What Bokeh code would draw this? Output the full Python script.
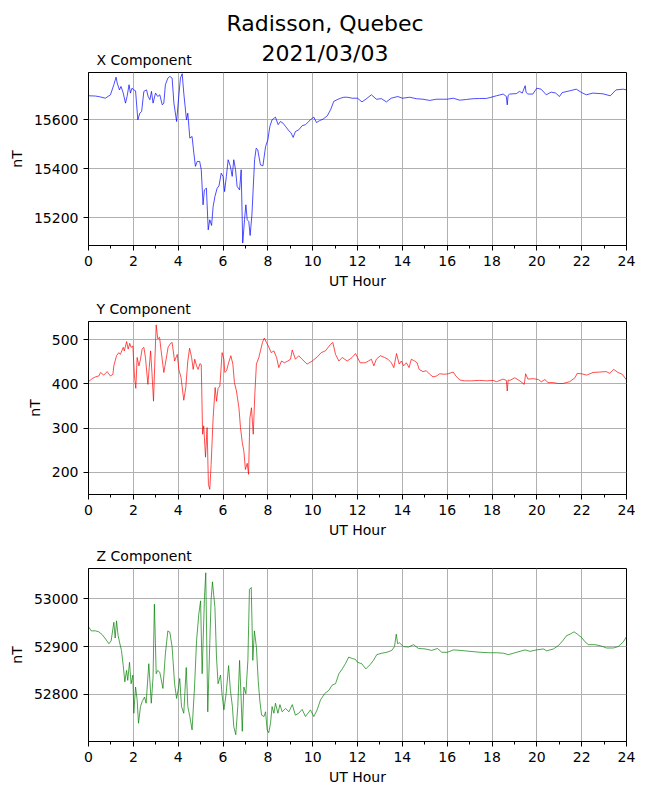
from bokeh.plotting import figure
from bokeh.models import Range1d, FixedTicker, Title
from bokeh.layouts import column, row
from bokeh.embed import file_html
from bokeh.resources import INLINE

FONT = "DejaVu Sans"

# ---------------- data ----------------
x_hours = [0.0, 0.3, 0.5, 0.75, 0.98, 1.13, 1.23, 1.28, 1.38, 1.45, 1.55, 1.65, 1.72, 1.81, 1.87, 1.94,
           2.02, 2.1, 2.2, 2.29, 2.37, 2.47, 2.59, 2.66, 2.74, 2.81, 2.88, 2.99, 3.09, 3.18, 3.29, 3.36,
           3.43, 3.54, 3.63, 3.73, 3.81, 3.93, 4.0, 4.1, 4.18, 4.25, 4.37, 4.43, 4.52, 4.62, 4.7, 4.77,
           4.85, 4.96, 5.03, 5.11, 5.17, 5.26, 5.34, 5.41, 5.49, 5.56, 5.64, 5.74, 5.82, 5.92, 6.0, 6.07,
           6.15, 6.23, 6.33, 6.41, 6.48, 6.56, 6.63, 6.74, 6.81, 6.88, 6.96, 7.02, 7.08, 7.15, 7.21, 7.29,
           7.41, 7.48, 7.55, 7.67, 7.78, 7.9, 8.0, 8.09, 8.19, 8.34, 8.46, 8.56, 8.68, 8.79, 8.94, 9.04,
           9.13, 9.23, 9.38, 9.53, 9.68, 9.9, 10.05, 10.17, 10.32, 10.47, 10.65, 10.8, 10.94, 11.09, 11.24,
           11.39, 11.54, 11.67, 11.76, 12.0, 12.2, 12.4, 12.62, 12.84, 13.07, 13.29, 13.5, 13.8, 14.0,
           14.33, 14.63, 14.92, 15.22, 15.52, 16.0, 16.27, 16.56, 16.86, 17.16, 17.45, 17.75, 18.0, 18.2,
           18.5, 18.64, 18.68, 18.72, 18.79, 19.09, 19.23, 19.35, 19.48, 19.52, 19.6, 19.82, 20.0, 20.19,
           20.42, 20.64, 20.84, 21.01, 21.13, 21.46, 21.76, 22.0, 22.21, 22.5, 22.95, 23.28, 23.53, 23.85, 24.0]
x_values = [15698, 15697, 15694, 15688, 15702, 15743, 15774, 15750, 15722, 15736, 15709, 15668, 15695, 15743, 15709, 15729,
            15722, 15718, 15600, 15627, 15634, 15716, 15722, 15695, 15682, 15716, 15668, 15709, 15695, 15702, 15661, 15668,
            15743, 15770, 15777, 15770, 15668, 15593, 15668, 15770, 15788, 15709, 15600, 15627, 15525, 15532, 15464, 15410,
            15430, 15430, 15396, 15253, 15314, 15321, 15151, 15192, 15169, 15246, 15287, 15321, 15330, 15382, 15369, 15307,
            15369, 15437, 15410, 15369, 15437, 15396, 15328, 15314, 15396, 15097, 15192, 15253, 15192, 15185, 15128, 15212,
            15437, 15484, 15478, 15416, 15412, 15491, 15518, 15573, 15600, 15611, 15580, 15593, 15586, 15573, 15555, 15546,
            15528, 15552, 15559, 15576, 15580, 15600, 15611, 15589, 15597, 15603, 15616, 15641, 15675, 15682, 15688,
            15692, 15692, 15690, 15688, 15688, 15673, 15686, 15702, 15684, 15686, 15673, 15688, 15695, 15688,
            15692, 15686, 15684, 15679, 15684, 15684, 15688, 15680, 15683, 15686, 15687, 15687, 15693, 15698,
            15705, 15695, 15661, 15700, 15705, 15707, 15716, 15709, 15739, 15712, 15705, 15705, 15729, 15725,
            15702, 15713, 15709, 15695, 15711, 15718, 15725, 15711, 15702, 15709, 15706, 15698, 15722, 15725, 15722]

y_hours = [0.0, 0.16, 0.31, 0.46, 0.54, 0.68, 0.83, 0.98, 1.09, 1.13, 1.25, 1.35, 1.42, 1.55, 1.6, 1.7, 1.77,
           1.84, 1.9, 1.98, 2.05, 2.11, 2.17, 2.25, 2.32, 2.39, 2.47, 2.54, 2.65, 2.71, 2.77, 2.83, 2.9, 2.96,
           3.02, 3.09, 3.17, 3.24, 3.36, 3.45, 3.55, 3.66, 3.73, 3.84, 3.96, 4.03, 4.13, 4.25, 4.34, 4.43,
           4.51, 4.6, 4.67, 4.74, 4.82, 4.89, 4.97, 5.03, 5.09, 5.14, 5.22, 5.29, 5.35, 5.41, 5.47, 5.56,
           5.65, 5.71, 5.78, 5.86, 5.96, 6.04, 6.08, 6.16, 6.25, 6.35, 6.44, 6.51, 6.6, 6.71, 6.78, 6.86,
           6.93, 7.0, 7.08, 7.14, 7.2, 7.27, 7.35, 7.42, 7.49, 7.6, 7.67, 7.76, 7.84, 7.94, 8.04, 8.15, 8.27,
           8.39, 8.49, 8.61, 8.74, 8.89, 9.01, 9.09, 9.23, 9.38, 9.53, 9.75, 9.98, 10.2, 10.38, 10.57, 10.8,
           10.9, 11.02, 11.17, 11.32, 11.54, 11.76, 11.91, 12.0, 12.12, 12.34, 12.49, 12.62, 12.73, 12.84,
           13.02, 13.21, 13.36, 13.51, 13.62, 13.74, 13.86, 13.96, 14.06, 14.18, 14.3, 14.4, 14.55, 14.66,
           14.75, 14.92, 15.07, 15.22, 15.37, 15.52, 15.67, 15.89, 16.04, 16.27, 16.39, 16.56, 16.78, 17.08,
           17.45, 17.75, 18.05, 18.2, 18.49, 18.64, 18.68, 18.72, 18.8, 19.02, 19.24, 19.44, 19.5, 19.6,
           19.84, 20.07, 20.2, 20.36, 20.5, 20.72, 20.95, 21.17, 21.46, 21.7, 21.8, 22.0, 22.22, 22.51,
           22.81, 23.1, 23.25, 23.43, 23.62, 23.81, 24.0]
y_values = [405, 412, 416, 418, 426, 420, 428, 418, 422, 441, 464, 471, 467, 483, 475, 496, 479,
            492, 483, 486, 418, 390, 460, 441, 456, 479, 483, 460, 399, 437, 475, 426, 361, 452,
            534, 502, 506, 475, 426, 452, 483, 492, 494, 452, 467, 433, 414, 363, 392, 452,
            481, 460, 433, 456, 441, 433, 446, 444, 286, 305, 234, 301, 172, 161, 217, 323,
            392, 361, 390, 395, 471, 456, 426, 430, 448, 464, 445, 403, 384, 346, 301, 267,
            248, 206, 220, 195, 323, 346, 286, 377, 445, 460, 475, 494, 504, 494, 484, 471, 475,
            460, 437, 452, 448, 452, 456, 477, 456, 464, 456, 445, 452, 461, 471, 475, 490,
            494, 467, 452, 460, 452, 460, 469, 460, 448, 448, 452, 456, 441, 456,
            464, 460, 456, 448, 437, 469, 445, 452, 441, 448, 437, 456, 452, 448,
            433, 428, 430, 422, 416, 418, 423, 422, 423, 427, 418, 409, 407, 407,
            408, 407, 408, 405, 411, 408, 384, 409, 408, 414, 407, 399, 423, 411,
            412, 410, 405, 410, 403, 403, 401, 401, 405, 414, 424, 423, 420, 426,
            427, 428, 424, 433, 426, 422, 409]

z_hours = [0.0, 0.12, 0.31, 0.46, 0.61, 0.76, 0.91, 1.01, 1.13, 1.19, 1.25, 1.32, 1.4, 1.47, 1.55, 1.62,
           1.7, 1.75, 1.83, 1.9, 1.98, 2.02, 2.1, 2.17, 2.23, 2.32, 2.39, 2.5, 2.57, 2.69, 2.8, 2.88, 2.94,
           3.02, 3.09, 3.18, 3.32, 3.43, 3.54, 3.63, 3.73, 3.84, 3.93, 4.01, 4.07, 4.15, 4.25, 4.36, 4.43,
           4.52, 4.62, 4.73, 4.82, 4.92, 5.0, 5.07, 5.17, 5.23, 5.32, 5.41, 5.47, 5.53, 5.64, 5.71, 5.78,
           5.89, 5.96, 6.04, 6.14, 6.25, 6.33, 6.42, 6.48, 6.57, 6.66, 6.74, 6.81, 6.86, 6.93, 7.02, 7.11,
           7.18, 7.26, 7.33, 7.4, 7.49, 7.57, 7.64, 7.72, 7.83, 7.9, 7.97, 8.04, 8.12, 8.19, 8.27, 8.34,
           8.45, 8.54, 8.64, 8.79, 8.94, 9.09, 9.23, 9.38, 9.53, 9.68, 9.9, 10.05, 10.2, 10.35, 10.53,
           10.72, 10.87, 11.02, 11.17, 11.32, 11.46, 11.61, 11.76, 11.91, 12.0, 12.19, 12.37, 12.56, 12.71,
           12.86, 13.08, 13.31, 13.53, 13.65, 13.73, 13.79, 13.87, 14.05, 14.27, 14.5, 14.72, 15.02, 15.31,
           15.57, 15.76, 16.01, 16.28, 16.58, 17.02, 17.47, 17.91, 18.21, 18.51, 18.73, 18.95, 19.25, 19.47,
           19.7, 19.99, 20.29, 20.44, 20.74, 20.96, 21.15, 21.33, 21.48, 21.66, 21.81, 22.0, 22.15, 22.3,
           22.59, 22.89, 23.11, 23.41, 23.63, 23.86, 24.0]
z_values = [52942, 52933, 52933, 52931, 52925, 52916, 52906, 52912, 52951, 52918, 52954, 52923, 52906, 52892, 52860, 52826,
            52850, 52829, 52867, 52822, 52840, 52760, 52815, 52788, 52739, 52774, 52784, 52794, 52781, 52864, 52781, 52836, 52989,
            52843, 52850, 52846, 52812, 52885, 52933, 52930, 52899, 52822, 52791, 52812, 52833, 52774, 52760, 52856, 52774,
            52753, 52725, 52815, 52912, 52968, 52996, 52843, 52999, 53055, 52763, 52906, 52999, 53036, 52982, 52878, 52822,
            52840, 52798, 52767, 52801, 52860, 52808, 52774, 52732, 52715, 52774, 52871, 52788, 52722, 52815, 52801, 52871,
            53020, 53024, 52871, 52933, 52899, 52829, 52788, 52756, 52753, 52763, 52725, 52719, 52739, 52774, 52760, 52781,
            52760, 52778, 52763, 52770, 52763, 52778, 52756, 52760, 52768, 52753, 52767, 52753, 52767, 52788, 52801,
            52808, 52819, 52822, 52843, 52853, 52864, 52878, 52875, 52873, 52867, 52864, 52853, 52862, 52871,
            52883, 52886, 52888, 52892, 52900, 52926, 52906, 52908, 52900, 52899, 52904, 52896, 52895, 52892,
            52896, 52888, 52888, 52893, 52892, 52890, 52888, 52887, 52887, 52886, 52883, 52886, 52890, 52893,
            52890, 52893, 52895, 52891, 52895, 52902, 52912, 52923, 52926, 52931, 52926, 52919, 52910, 52904,
            52904, 52901, 52897, 52897, 52900, 52910, 52921]

x_ticks = [0, 2, 4, 6, 8, 10, 12, 14, 16, 18, 20, 22, 24]
x_minor = [1, 3, 5, 7, 9, 11, 13, 15, 17, 19, 21, 23]
x_comp_ticks = [15200, 15400, 15600]
y_comp_ticks = [200, 300, 400, 500]
z_comp_ticks = [52800, 52900, 53000]

main_title = ["Radisson, Quebec", "2021/03/03"]
panel_titles = ["X Component", "Y Component", "Z Component"]


def text_strip(width):
    """A blank figure whose only content is titles above a 1px invisible frame."""
    f = figure(width=width, height=70, output_backend="svg", toolbar_location=None,
               x_range=Range1d(0, 1), y_range=Range1d(0, 1),
               x_axis_type=None, y_axis_type=None,
               min_border_left=0, min_border_right=0,
               min_border_top=69, min_border_bottom=0)
    f.outline_line_color = None
    f.background_fill_color = "white"
    f.border_fill_color = "white"
    f.grid.visible = False
    return f


def make_panel(hours, vals, color, yr, yticks, height, top, bottom, ptitle=None):
    p = figure(width=650, height=height, output_backend="svg", toolbar_location=None,
               x_range=Range1d(0, 24), y_range=Range1d(*yr),
               min_border_left=88, min_border_right=24,
               min_border_top=top, min_border_bottom=bottom)
    p.background_fill_color = "white"
    p.border_fill_color = "white"
    p.outline_line_color = "black"
    p.outline_line_width = 1
    p.outline_line_alpha = 1

    p.line(hours, vals, color=color, line_width=0.7)

    p.xaxis.ticker = FixedTicker(ticks=x_ticks, minor_ticks=x_minor)
    p.yaxis.ticker = FixedTicker(ticks=yticks)
    for ax in (p.xaxis[0], p.yaxis[0]):
        ax.axis_line_color = "black"
        ax.axis_line_width = 1
        ax.major_tick_line_color = "black"
        ax.major_tick_out = 5
        ax.major_tick_in = 0
        ax.minor_tick_line_color = "black"
        ax.minor_tick_out = 3
        ax.minor_tick_in = 0
        ax.major_label_text_font = FONT
        ax.major_label_text_font_size = "14px"
        ax.major_label_text_color = "black"
        ax.major_label_standoff = 5
        ax.axis_label_text_font = FONT
        ax.axis_label_text_font_size = "14px"
        ax.axis_label_text_font_style = "normal"
        ax.axis_label_text_color = "black"
        ax.axis_label_standoff = 6
    p.xaxis.axis_label = "UT Hour"
    p.yaxis.axis_label = "nT"
    p.xaxis.axis_label_standoff = 4

    p.xgrid.ticker = FixedTicker(ticks=x_ticks)
    p.ygrid.ticker = FixedTicker(ticks=yticks)
    for g in (p.xgrid[0], p.ygrid[0]):
        g.grid_line_color = "#b0b0b0"
        g.grid_line_width = 1

    if ptitle is not None:
        p.add_layout(Title(text=ptitle, align="left", offset=8, standoff=10,
                           text_font=FONT, text_font_size="14px",
                           text_font_style="normal", text_color="black"), "above")
    return p


# top strip: "X Component" on the left, two-line main title centred on the page
strip_a = text_strip(200)
strip_a.add_layout(Title(text=panel_titles[0], align="left", offset=96, standoff=4,
                         text_font=FONT, text_font_size="14px",
                         text_font_style="normal", text_color="black"), "above")
strip_b = text_strip(249)
strip_b.add_layout(Title(text=main_title[1], align="center", standoff=8,
                         text_font=FONT, text_font_size="22px",
                         text_font_style="normal", text_color="black"), "above")
strip_b.add_layout(Title(text=main_title[0], align="center", standoff=-2,
                         text_font=FONT, text_font_size="22px",
                         text_font_style="normal", text_color="black"), "above")

p1 = make_panel(x_hours, x_values, "#0000ff", (15087, 15793), x_comp_ticks, 222, 2, 47)
p2 = make_panel(y_hours, y_values, "#ff0000", (149.3, 541.6), y_comp_ticks, 248, 29, 46,
                panel_titles[1])
p3 = make_panel(z_hours, z_values, "#008000", (52700.6, 53064), z_comp_ticks, 248, 27, 47,
                panel_titles[2])

layout = column(row(strip_a, strip_b, spacing=0), p1, p2, p3, spacing=0)

with open("out.html", "w") as f:
    f.write(file_html(layout, INLINE))
